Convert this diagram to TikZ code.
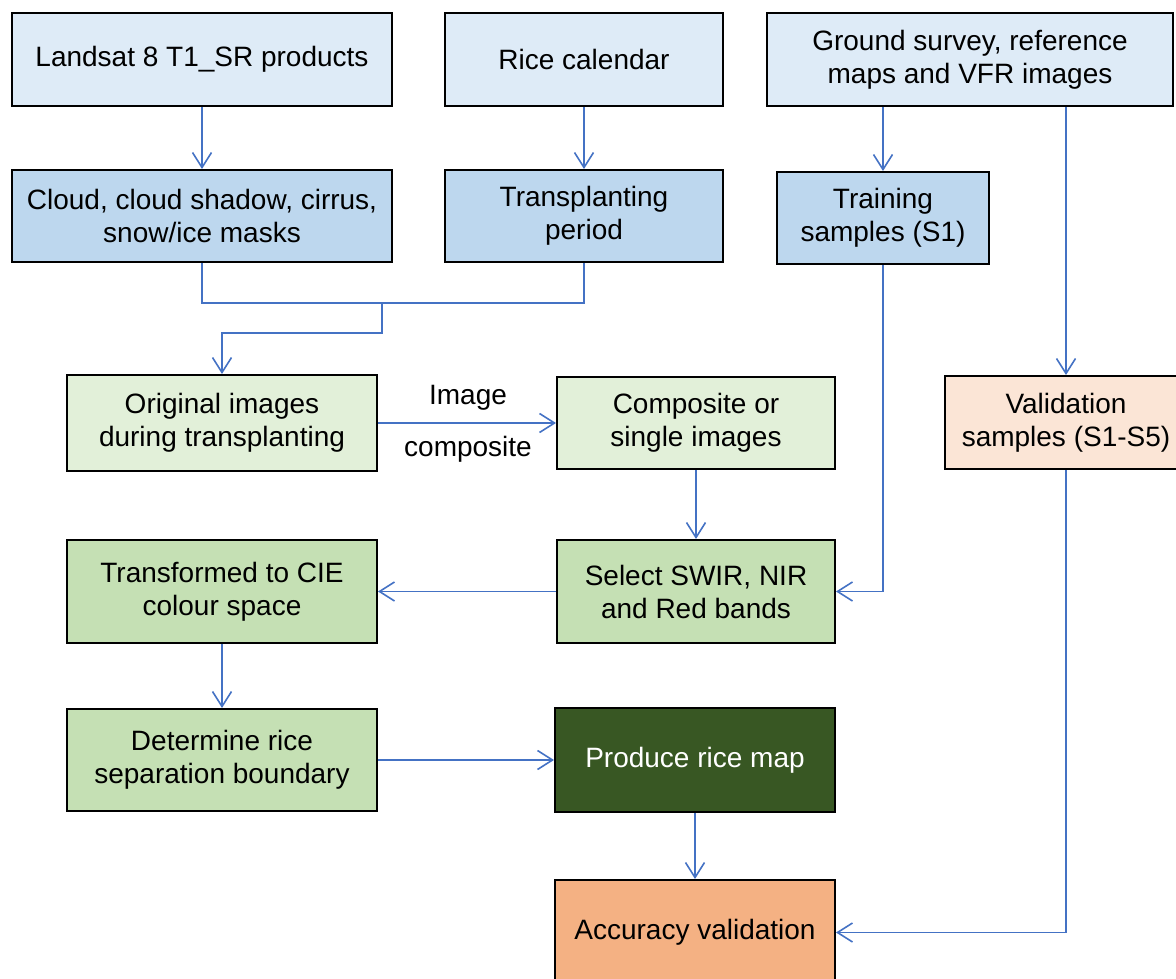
\documentclass[tikz,border=0pt]{standalone}
\usepackage{fontspec}
\setmainfont{Liberation Sans}
\usepackage{tikz}
\usetikzlibrary{arrows.meta,positioning,calc}
\usepackage{xcolor}
\definecolor{BlueLight}{HTML}{DEEBF7}
\definecolor{BlueMid}{HTML}{BDD7EE}
\definecolor{GreenLight}{HTML}{E2F0D9}
\definecolor{GreenMid}{HTML}{C5E0B4}
\definecolor{GreenDark}{HTML}{385723}
\definecolor{PeachLight}{HTML}{FBE5D6}
\definecolor{Peach}{HTML}{F4B183}
\definecolor{LinkBlue}{HTML}{4472C4}
\tikzset{
  stage box/.style={draw=black,line width=2pt,align=center,inner sep=0pt,
    font=\fontsize{28}{33}\selectfont},
  link line/.style={draw=LinkBlue,line width=1.6pt},
  link arrow/.style={link line,-{Straight Barb[length=15pt,width=19pt,line width=1.6pt]}}
}

\begin{document}
\begin{tikzpicture}[x=1pt,y=-1pt]
  \useasboundingbox (0,0) rectangle (1176,979);
  % inputs
  \node[stage box,fill=BlueLight,minimum width=380pt,minimum height=93pt] (landsat) at (202,59.5) {Landsat 8 T1\_SR products};
  \node[stage box,fill=BlueLight,minimum width=278pt,minimum height=93pt] (calendar) at (584,59.5) {Rice calendar};
  \node[stage box,fill=BlueLight,minimum width=406pt,minimum height=93pt] (ground) at (970,59.5) {Ground survey, reference\\maps and VFR images};
  \node[stage box,fill=BlueMid,minimum width=380pt,minimum height=92pt] (masks) at (202,216) {Cloud, cloud shadow, cirrus,\\snow/ice masks};
  \node[stage box,fill=BlueMid,minimum width=278pt,minimum height=92pt] (period) at (584,216) {Transplanting\\period};
  \node[stage box,fill=BlueMid,minimum width=212pt,minimum height=92pt] (training) at (883,218) {Training\\samples (S1)};
  % processing
  \node[stage box,fill=GreenLight,minimum width=310pt,minimum height=96pt] (original) at (222,423) {Original images\\during transplanting};
  \node[stage box,fill=GreenLight,minimum width=278pt,minimum height=92pt] (composite) at (696,423) {Composite or\\single images};
  \node[stage box,fill=PeachLight,minimum width=242pt,minimum height=93pt] (validation) at (1066,422.5) {Validation\\samples (S1-S5)};
  \node[stage box,fill=GreenMid,minimum width=310pt,minimum height=103pt] (cie) at (222,591.5) {Transformed to CIE\\colour space};
  \node[stage box,fill=GreenMid,minimum width=278pt,minimum height=103pt] (bands) at (696,591.5) {Select SWIR, NIR\\and Red bands};
  \node[stage box,fill=GreenMid,minimum width=310pt,minimum height=102pt] (boundary) at (222,760) {Determine rice\\separation boundary};
  \node[stage box,fill=GreenDark,text=white,minimum width=280pt,minimum height=104pt] (ricemap) at (695,760) {Produce rice map};
  \node[stage box,fill=Peach,minimum width=280pt,minimum height=105pt] (accuracy) at (695,932.5) {Accuracy validation};
  \node[font=\fontsize{28}{33}\selectfont] (imglabel) at (468,398) {Image};
  \node[font=\fontsize{28}{33}\selectfont] (complabel) at (468,449) {composite};
  % connectors
  \coordinate (merge) at (382,303);
  \coordinate (bend) at (382,333);
  \draw[link arrow] (landsat) -- (masks);
  \draw[link arrow] (calendar) -- (period);
  \draw[link arrow] (training.north |- ground.south) -- (training.north);
  \draw[link line] (masks.south) |- (merge) -| (period.south);
  \draw[link arrow] (merge) -- (bend) -| (original.north);
  \draw[link arrow] (original.east) -- (composite.west);
  \draw[link arrow] (composite) -- (bands);
  \draw[link arrow] (training.south) |- (bands.east);
  \draw[link arrow] (bands.west) -- (cie.east);
  \draw[link arrow] (cie) -- (boundary);
  \draw[link arrow] (boundary.east) -- (ricemap.west);
  \draw[link arrow] (ricemap) -- (accuracy);
  \draw[link arrow] (validation.north |- ground.south) -- (validation.north);
  \draw[link arrow] (validation.south) |- (accuracy.east);
\end{tikzpicture}
\end{document}
